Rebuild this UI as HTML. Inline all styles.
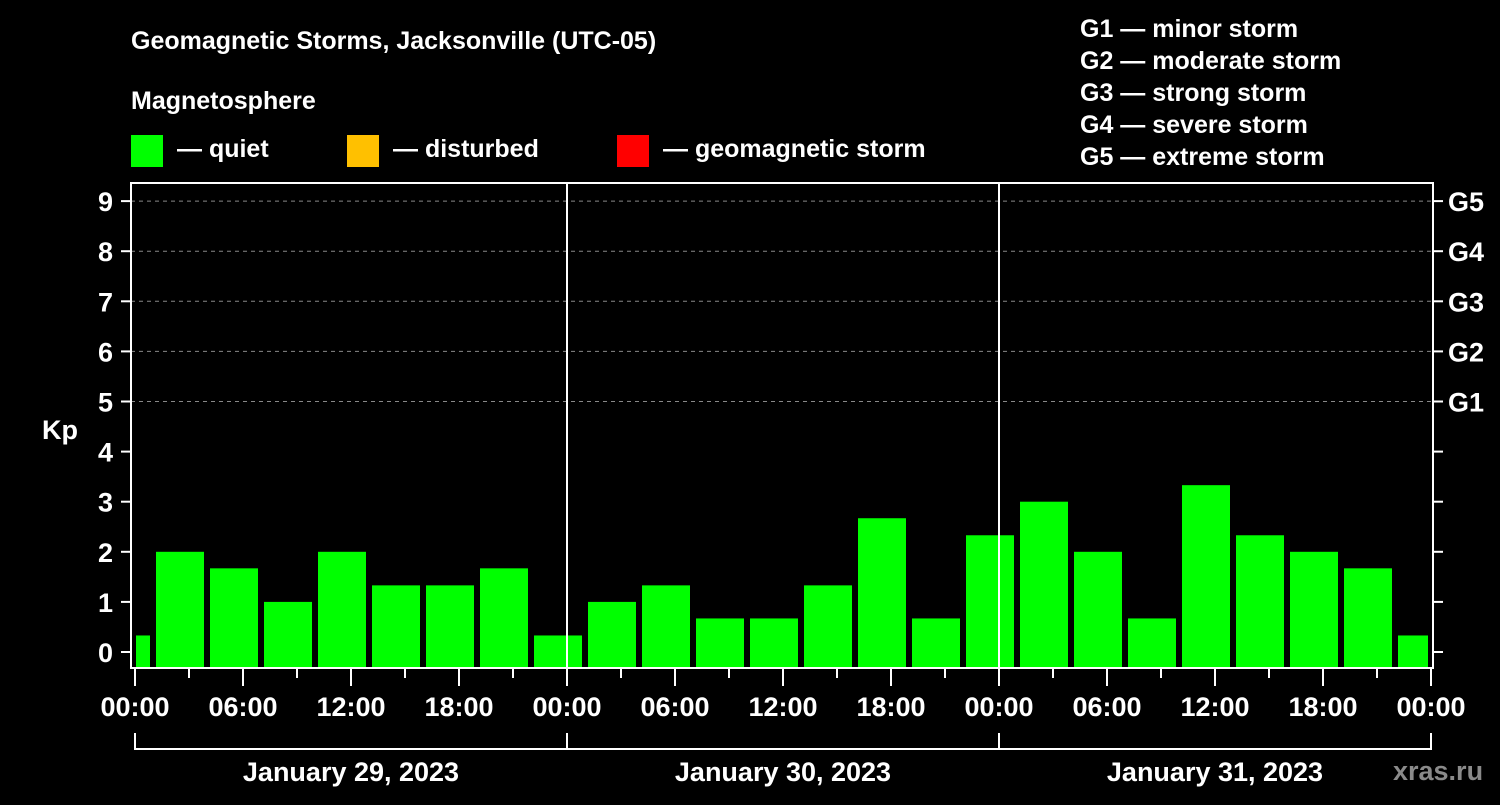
<!DOCTYPE html>
<html><head><meta charset="utf-8"><style>
html,body{margin:0;padding:0;background:#000;}
svg text{font-family:"Liberation Sans",Arial,sans-serif;font-weight:bold;fill:#fff;}
</style></head><body>
<svg id="chart" width="1500" height="800" xmlns="http://www.w3.org/2000/svg">
<rect x="0" y="0" width="1500" height="800" fill="#000"/>
<text x="131" y="49" font-size="25">Geomagnetic Storms, Jacksonville (UTC-05)</text>
<text x="131" y="109" font-size="25">Magnetosphere</text>
<g><rect x="131" y="135" width="32" height="32" fill="#00ff00"/><text x="177" y="157" font-size="25">— quiet</text></g>
<g><rect x="347" y="135" width="32" height="32" fill="#ffc000"/><text x="393" y="157" font-size="25">— disturbed</text></g>
<g><rect x="617" y="135" width="32" height="32" fill="#ff0000"/><text x="663" y="157" font-size="25">— geomagnetic storm</text></g>
<g font-size="25">
<text x="1080" y="37">G1 — minor storm</text>
<text x="1080" y="69">G2 — moderate storm</text>
<text x="1080" y="101">G3 — strong storm</text>
<text x="1080" y="133">G4 — severe storm</text>
<text x="1080" y="165">G5 — extreme storm</text>
</g>
<text x="42" y="439" font-size="27">Kp</text>
<g id="grid"></g><g id="bars"></g><g id="axes"></g>
<text x="1393" y="780" font-size="27" fill="#888" style="fill:#8a8a8a">xras.ru</text>
</svg>
<script>
const kpValues=[0.33,2,1.67,1,2,1.33,1.33,1.67,0.33,1,1.33,0.67,0.67,1.33,2.67,0.67,2.33,3,2,0.67,3.33,2.33,2,1.67,0.33];
const intervalStartHours=[-2,1,4,7,10,13,16,19,22,25,28,31,34,37,40,43,46,49,52,55,58,61,64,67,70];
const kpTicks=[0,1,2,3,4,5,6,7,8,9];
const gLabels=["G1","G2","G3","G4","G5"];
const hourLabels=["00:00","06:00","12:00","18:00"];
const dayLabels=["January 29, 2023","January 30, 2023","January 31, 2023"];
const NS="http://www.w3.org/2000/svg";
const X0=135,PXH=18,Y0=652,PXK=50.1,L=131,R=1433,T=183,B=668;
const xs=h=>X0+h*PXH, ys=k=>Y0-k*PXK;
function el(tag,attrs,parent,txt){const e=document.createElementNS(NS,tag);for(const k in attrs)e.setAttribute(k,attrs[k]);if(txt!==undefined)e.textContent=txt;parent.appendChild(e);return e;}
const grid=document.getElementById('grid'),bars=document.getElementById('bars'),axes=document.getElementById('axes');
kpTicks.forEach(k=>{if(k>=5){const g=el('line',{x1:L,x2:R,y1:ys(k),y2:ys(k),stroke:'#888','stroke-dasharray':'4,4','stroke-width':1},grid);

}});
kpValues.forEach((v,i)=>{const s=intervalStartHours[i];let x1=Math.max(xs(s)+3,136),x2=Math.min(xs(s+3)-3,1428);
const c=v>=5?'#ff0000':(v>=4?'#ffc000':'#00ff00');
const r=el('rect',{x:x1,y:ys(v),width:x2-x1,height:B-ys(v),fill:c},bars);

});
// day separators
[1,2].forEach(d=>{const l=el('line',{x1:xs(24*d),x2:xs(24*d),y1:T,y2:B,stroke:'#fff','stroke-width':2},axes);

});
const fr=el('rect',{x:L,y:T,width:R-L,height:B-T,fill:'none',stroke:'#fff','stroke-width':2},axes);


kpTicks.forEach(k=>{el('line',{x1:L-10,x2:L,y1:ys(k),y2:ys(k),stroke:'#fff','stroke-width':2},axes);
el('line',{x1:R,x2:R+10,y1:ys(k),y2:ys(k),stroke:'#fff','stroke-width':2},axes);
const t=el('text',{x:L-18,y:ys(k)+10,'font-size':27,'text-anchor':'end'},axes,String(k));


if(k>=5){const g=el('text',{x:1448,y:ys(k)+10,'font-size':27},axes,gLabels[k-5]);

}});
for(let h=0;h<=72;h+=3){const major=h%6===0;el('line',{x1:xs(h),x2:xs(h),y1:B,y2:B+(major?18:10),stroke:'#fff','stroke-width':2},axes);
if(major&&h%6===0){const lab=h===72?"00:00":hourLabels[(h%24)/6];
const t=el('text',{x:xs(h),y:716,'font-size':27,'text-anchor':'middle'},axes,lab);

}}
el('line',{x1:xs(0),x2:xs(72),y1:749,y2:749,stroke:'#fff','stroke-width':2},axes);
for(let d=0;d<=3;d++)el('line',{x1:xs(24*d),x2:xs(24*d),y1:733,y2:750,stroke:'#fff','stroke-width':2},axes);
dayLabels.forEach((s,d)=>{const t=el('text',{x:xs(24*d+12),y:781,'font-size':27,'text-anchor':'middle'},axes,s);

});
</script>
</body></html>
